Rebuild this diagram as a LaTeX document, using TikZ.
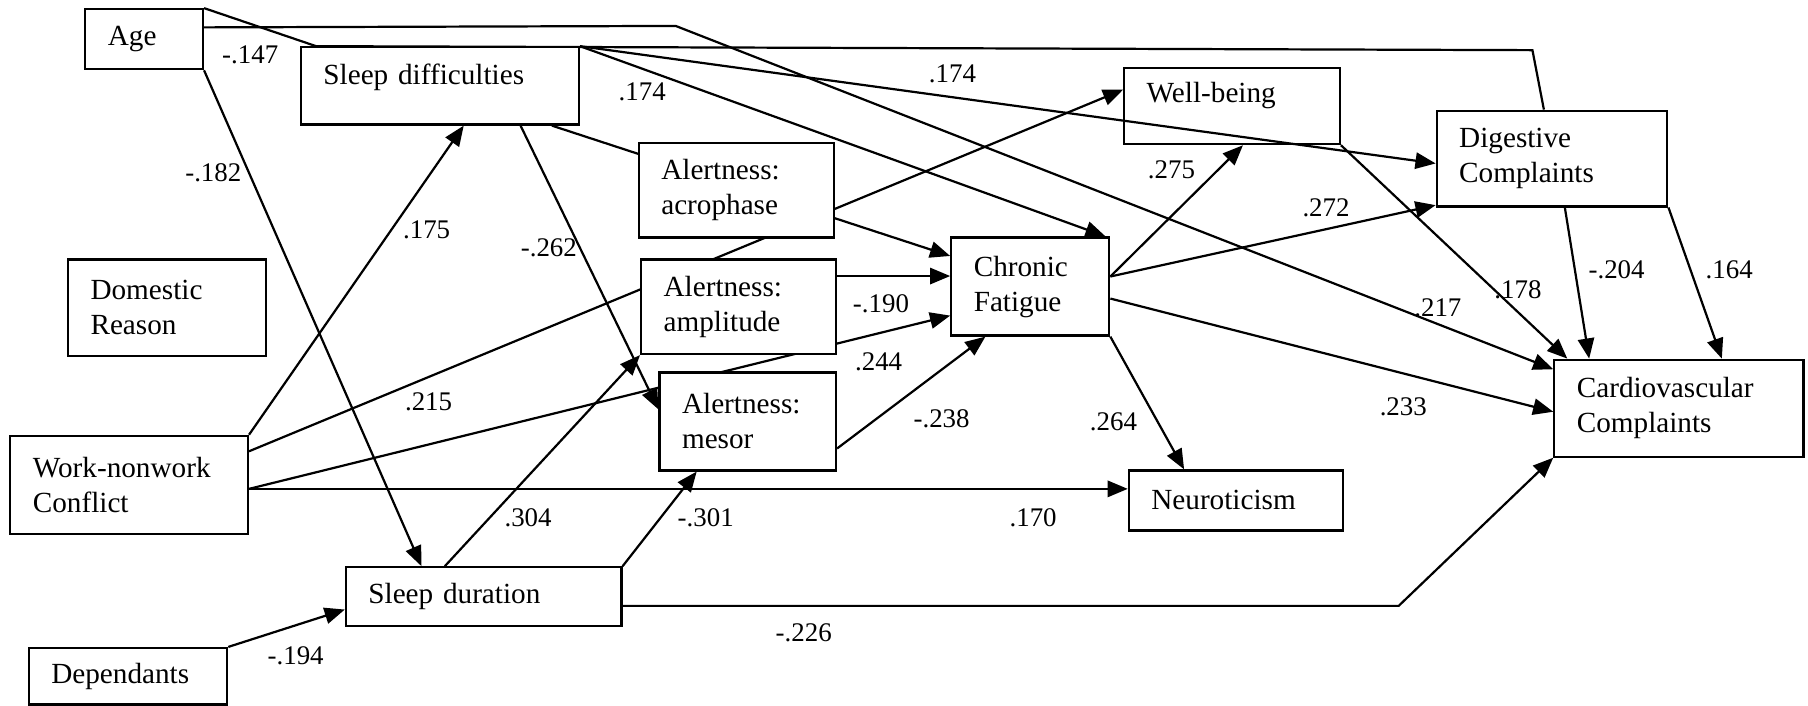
\documentclass[tikz,border=0pt]{standalone}
\usepackage{fontspec}
\setmainfont{Liberation Serif}
\usetikzlibrary{arrows.meta,calc,backgrounds}

\tikzset{
  varbox/.style={draw, fill=white, line width=1.15pt, rectangle, inner xsep=11.7pt,
    inner ysep=0pt, align=left, font=\fontsize{15.2}{18.2}\selectfont},
  link/.style={line width=1.15pt},
  arr/.style={link, -{Triangle[length=10.5pt,width=8.5pt]}},
  coef/.style={font=\fontsize{14}{16}\selectfont, inner sep=0pt},
}

% variable box from its corners: name, x1, y1, x2, y2, text
\newcommand{\varnode}[6]{%
  \pgfmathsetmacro{\bxw}{(#4-#2)*0.6}%
  \pgfmathsetmacro{\bxh}{(#5-#3)*0.6}%
  \pgfmathsetmacro{\bxt}{\bxw-23.4}%
  \node[varbox, minimum width=\bxw pt, minimum height=\bxh pt, text width=\bxt pt]
    (#1) at ({(#2+#4)/2},{(#3+#5)/2}) {#6};%
}

\begin{document}
\begin{tikzpicture}[x=0.6pt, y=-0.6pt]
\useasboundingbox (0,0) rectangle (1568,612);

% variables
\varnode{age}{74}{8}{176}{60}{Age}
\varnode{sd}{261}{41}{502}{108}{\raisebox{4.5pt}[\height][\depth]{Sleep difficulties}}
\varnode{acro}{554}{124}{723}{206}{Alertness:\\acrophase}
\varnode{ampl}{556}{225}{725}{307}{Alertness:\\amplitude}
\varnode{mesor}{572}{323}{725}{408}{Alertness:\\mesor}
\varnode{cf}{825}{206}{962}{291}{Chronic\\Fatigue}
\varnode{wb}{975}{59}{1162}{125}{\raisebox{5.4pt}[\height][\depth]{Well-being}}
\varnode{dig}{1246}{96}{1446}{179}{Digestive\\Complaints}
\varnode{cv}{1348}{312}{1564}{396}{Cardiovascular\\Complaints}
\varnode{neu}{979}{408}{1165}{460}{Neuroticism}
\varnode{dom}{59}{225}{231}{309}{Domestic\\Reason}
\varnode{wnc}{9}{378}{215}{463}{Work-nonwork\\Conflict}
\varnode{sdur}{300}{492}{539}{543}{Sleep duration}
\varnode{dep}{25}{562}{197}{611}{Dependants}

\begin{pgfonlayer}{background}
% paths from age
\coordinate (a1) at (1329,43.5);
\draw[link] (age.north east) -- ($(sd.north west)!0.058!(sd.north east)$) -- (a1)
  -- ($(dig.north west)!0.465!(dig.north east)$);
\coordinate (a2) at (586,22.5);
\draw[arr] ($(age.north east)!0.31!(age.south east)$) -- (a2)
  -- ($(cv.north west)!0.107!(cv.south west)$);
\draw[arr] (age.south east) -- ($(sdur.north west)!0.276!(sdur.north east)$);
% paths from work-nonwork conflict
\draw[arr] (wnc.north east) -- ($(sd.south west)!0.585!(sd.south east)$);
\draw[arr] ($(wnc.north east)!0.165!(wnc.south east)$) -- ($(wb.north west)!0.29!(wb.south west)$);
\coordinate (w1) at ($(wnc.north east)!0.54!(wnc.south east)$);
\draw[arr] (w1) -- ($(cf.north west)!0.79!(cf.south west)$);
\draw[arr] (w1) -- (w1 -| neu.west);
% paths from sleep difficulties
\draw[arr] ($(sd.south west)!0.788!(sd.south east)$) -- ($(mesor.north west)!0.38!(mesor.south west)$);
\draw[arr] ($(sd.south west)!0.9!(sd.south east)$) -- ($(cf.north west)!0.195!(cf.south west)$);
\draw[arr] (sd.north east) -- ($(cf.north west)!0.97!(cf.north east)$);
% paths from alertness
\coordinate (p1) at ($(ampl.north east)!0.183!(ampl.south east)$);
\draw[arr] (p1) -- (p1 -| cf.west);
\draw[arr] ($(mesor.north east)!0.77!(mesor.south east)$) -- ($(cf.south west)!0.22!(cf.south east)$);
% paths from chronic fatigue
\coordinate (c1) at ($(cf.north east)!0.4!(cf.south east)$);
\draw[arr] (c1) -- ($(wb.south west)!0.55!(wb.south east)$);
\draw[arr] (c1) -- ($(dig.north west)!0.976!(dig.south west)$);
\draw[arr] ($(cf.north east)!0.62!(cf.south east)$) -- ($(cv.north west)!0.536!(cv.south west)$);
\draw[arr] (cf.south east) -- ($(neu.north west)!0.26!(neu.north east)$);
% paths from well-being and digestive complaints
\draw[arr] (wb.south east) -- ($(cv.north west)!0.056!(cv.north east)$);
\draw[arr] ($(dig.south west)!0.555!(dig.south east)$) -- ($(cv.north west)!0.143!(cv.north east)$);
\draw[arr] (dig.south east) -- ($(cv.north west)!0.671!(cv.north east)$);
% paths from sleep duration and dependants
\coordinate (s1) at ($(sdur.north east)!0.65!(sdur.south east)$);
\coordinate (s2) at (1213,526);
\draw[arr] (s1) -- (s1 -| s2) -- (cv.south west);
\draw[arr] ($(sdur.north west)!0.36!(sdur.north east)$) -- (ampl.south west);
\draw[arr] (sdur.north east) -- ($(mesor.south west)!0.214!(mesor.south east)$);
\draw[arr] (dep.north east) -- ($(sdur.north west)!0.71!(sdur.south west)$);
\end{pgfonlayer}

% this path runs across the well-being box
\draw[arr] (sd.north east) -- ($(dig.north west)!0.55!(dig.south west)$);

% path coefficients
\node[coef] (k1) at (217,47.7) {-.147};
\node[coef] (k2) at (557,79.5) {.174};
\node[coef] (k3) at (826,63.6) {.174};
\node[coef] (k4) at (185,150) {-.182};
\node[coef] (k5) at (370,199.5) {.175};
\node[coef] (k6) at (476,215) {-.262};
\node[coef] (k7) at (1016,147.4) {.275};
\node[coef] (k8) at (1150,180.6) {.272};
\node[coef] (k9) at (1316.5,251.5) {.178};
\node[coef] (k10) at (1402,234) {-.204};
\node[coef] (k11) at (1499.6,234) {.164};
\node[coef] (k12) at (1247,267) {.217};
\node[coef] (k13) at (764,263) {-.190};
\node[coef] (k14) at (762,313.7) {.244};
\node[coef] (k15) at (371.7,348.4) {.215};
\node[coef] (k16) at (816.6,362.8) {-.238};
\node[coef] (k17) at (965.6,365.7) {.264};
\node[coef] (k18) at (1217,352.7) {.233};
\node[coef] (k19) at (458,449) {.304};
\node[coef] (k20) at (612,449) {-.301};
\node[coef] (k21) at (896,449) {.170};
\node[coef] (k22) at (697,548.7) {-.226};
\node[coef] (k23) at (256.4,569) {-.194};
\end{tikzpicture}
\end{document}
